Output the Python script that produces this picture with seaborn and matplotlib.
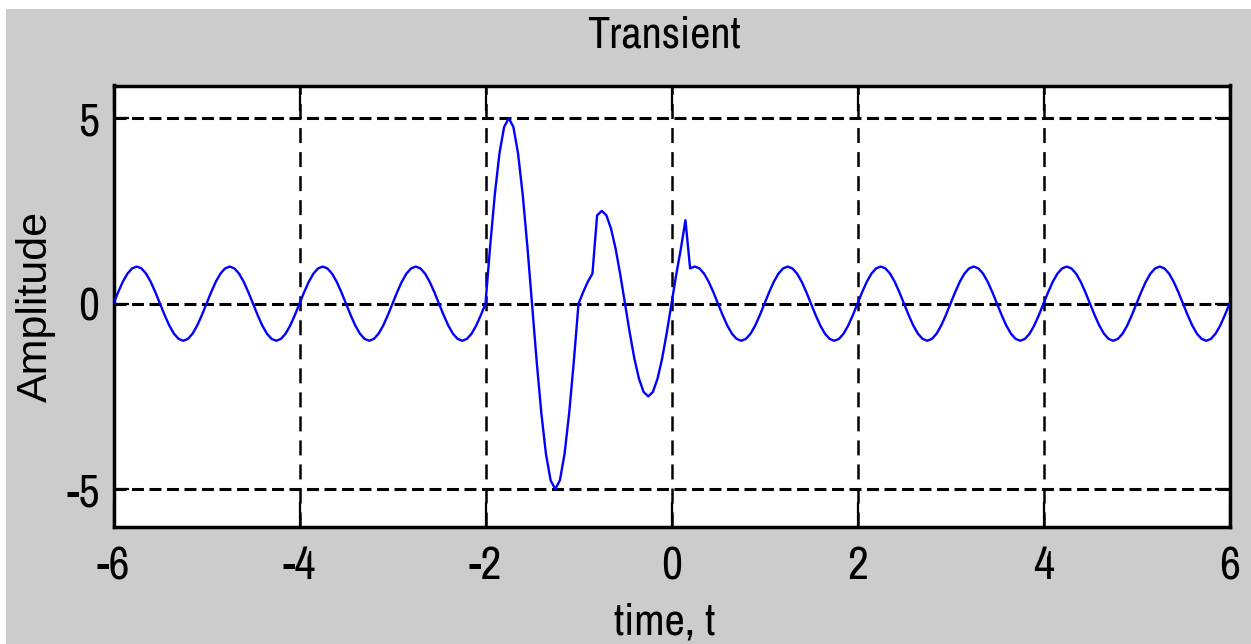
import numpy as np
import pandas as pd
import matplotlib
matplotlib.use("Agg")
import matplotlib.pyplot as plt
from matplotlib import font_manager
from matplotlib.patches import Rectangle
from matplotlib.ticker import FixedLocator, FixedFormatter
import seaborn as sns

# ---- data -------------------------------------------------------------
# sample times, 0.05 s apart, from -6 to 6
time_t = np.round(np.linspace(-6.0, 6.0, 241), 2)

# amplitude samples, one row per second of signal
amplitude = [
    # -6 .. -5.05
    0.00, 0.31, 0.59, 0.81, 0.95, 1.00, 0.95, 0.81, 0.59, 0.31,
    0.00, -0.31, -0.59, -0.81, -0.95, -1.00, -0.95, -0.81, -0.59, -0.31,
    # -5 .. -4.05
    0.00, 0.31, 0.59, 0.81, 0.95, 1.00, 0.95, 0.81, 0.59, 0.31,
    0.00, -0.31, -0.59, -0.81, -0.95, -1.00, -0.95, -0.81, -0.59, -0.31,
    # -4 .. -3.05
    0.00, 0.31, 0.59, 0.81, 0.95, 1.00, 0.95, 0.81, 0.59, 0.31,
    0.00, -0.31, -0.59, -0.81, -0.95, -1.00, -0.95, -0.81, -0.59, -0.31,
    # -3 .. -2.05
    0.00, 0.31, 0.59, 0.81, 0.95, 1.00, 0.95, 0.81, 0.59, 0.31,
    0.00, -0.31, -0.59, -0.81, -0.95, -1.00, -0.95, -0.81, -0.59, -0.31,
    # -2 .. -1.05  (large burst)
    0.00, 1.55, 2.94, 4.05, 4.76, 5.00, 4.76, 4.05, 2.94, 1.55,
    0.00, -1.55, -2.94, -4.05, -4.76, -5.00, -4.76, -4.05, -2.94, -1.55,
    # -1 .. -0.05  (second burst starts at -0.8)
    0.00, 0.31, 0.59, 0.81, 2.38, 2.50, 2.38, 2.02, 1.47, 0.77,
    0.00, -0.77, -1.47, -2.02, -2.38, -2.50, -2.38, -2.02, -1.47, -0.77,
    # 0 .. 0.95
    0.00, 0.77, 1.47, 2.25, 0.95, 1.00, 0.95, 0.81, 0.59, 0.31,
    0.00, -0.31, -0.59, -0.81, -0.95, -1.00, -0.95, -0.81, -0.59, -0.31,
    # 1 .. 1.95
    0.00, 0.31, 0.59, 0.81, 0.95, 1.00, 0.95, 0.81, 0.59, 0.31,
    0.00, -0.31, -0.59, -0.81, -0.95, -1.00, -0.95, -0.81, -0.59, -0.31,
    # 2 .. 2.95
    0.00, 0.31, 0.59, 0.81, 0.95, 1.00, 0.95, 0.81, 0.59, 0.31,
    0.00, -0.31, -0.59, -0.81, -0.95, -1.00, -0.95, -0.81, -0.59, -0.31,
    # 3 .. 3.95
    0.00, 0.31, 0.59, 0.81, 0.95, 1.00, 0.95, 0.81, 0.59, 0.31,
    0.00, -0.31, -0.59, -0.81, -0.95, -1.00, -0.95, -0.81, -0.59, -0.31,
    # 4 .. 4.95
    0.00, 0.31, 0.59, 0.81, 0.95, 1.00, 0.95, 0.81, 0.59, 0.31,
    0.00, -0.31, -0.59, -0.81, -0.95, -1.00, -0.95, -0.81, -0.59, -0.31,
    # 5 .. 5.95
    0.00, 0.31, 0.59, 0.81, 0.95, 1.00, 0.95, 0.81, 0.59, 0.31,
    0.00, -0.31, -0.59, -0.81, -0.95, -1.00, -0.95, -0.81, -0.59, -0.31,
    # 6
    0.00,
]

x_ticks = [-6, -4, -2, 0, 2, 4, 6]
x_tick_labels = ["-6", "-4", "-2", "0", "2", "4", "6"]
y_ticks = [-5, 0, 5]
y_tick_labels = ["-5", "0", "5"]

title_text = "Transient"
x_label = "time, t"
y_label = "Amplitude"

df = pd.DataFrame({"time": time_t, "amplitude": amplitude})

# ---- style ------------------------------------------------------------
sns.set_theme(style="white")

# prefer a narrow sans face for the horizontal text when one is installed
narrow = None
for f in font_manager.fontManager.ttflist:
    if "Narrow" in f.name or "Condensed" in f.name:
        narrow = f.name
        break
if narrow is not None:
    plt.rcParams["font.family"] = [narrow, "Liberation Sans", "DejaVu Sans"]
    text_size, tick_size = 32, 33
else:
    plt.rcParams["font.family"] = ["Liberation Sans", "DejaVu Sans"]
    text_size, tick_size = 29, 30
plt.rcParams["lines.scale_dashes"] = False

fig = plt.figure(figsize=(12.51, 6.44), dpi=100, facecolor="white")
# grey window background
fig.patches.append(Rectangle((6 / 1251, 0), 1 - 6 / 1251, 1 - 9 / 644,
                             transform=fig.transFigure, facecolor="#cccccc",
                             edgecolor="none", zorder=-10))

ax = fig.add_axes([113.5 / 1251, 117 / 644, 1116 / 1251, 441.5 / 644])
ax.set_facecolor("white")

sns.lineplot(data=df, x="time", y="amplitude", color="#0000ff",
             linewidth=1.7, estimator=None, ax=ax, zorder=3)

ax.set_xlim(-6, 6)
ax.set_ylim(-6.02, 5.88)

ax.xaxis.set_major_locator(FixedLocator(x_ticks))
ax.xaxis.set_major_formatter(FixedFormatter(x_tick_labels))
ax.yaxis.set_major_locator(FixedLocator(y_ticks))
ax.yaxis.set_major_formatter(FixedFormatter(y_tick_labels))

# dashed grid at the ticks
ax.grid(axis="x", color="black", linewidth=1.8, linestyle=(0, (10.8, 6.5)))
ax.grid(axis="y", color="black", linewidth=2.2, linestyle=(0, (8.6, 4.0)))
ax.set_axisbelow(False)

for side in ["left", "right", "top", "bottom"]:
    ax.spines[side].set_visible(True)
    ax.spines[side].set_color("black")
    ax.spines[side].set_linewidth(2.5)

ax.tick_params(axis="x", which="major", direction="in", top=True, bottom=True,
               length=18, width=1.6, color="black", pad=13,
               labelsize=tick_size, labelcolor="black")
ax.tick_params(axis="y", which="major", direction="in", left=True, right=True,
               length=11, width=1.6, color="black", pad=10,
               labelsize=tick_size, labelcolor="black")

ax.set_title(title_text, fontsize=text_size, color="black", pad=27, x=0.493)

ax.set_xlabel(x_label, fontsize=text_size, color="black")
ax.xaxis.label.set_verticalalignment("baseline")
ax.xaxis.set_label_coords(0.494, -0.2446)

ax.set_ylabel(y_label, fontsize=31, color="black",
              family=["Liberation Sans", "DejaVu Sans"])
ax.yaxis.label.set_verticalalignment("baseline")
ax.yaxis.set_label_coords(-0.0596, 0.5)

fig.savefig("out.png", dpi=100, facecolor=fig.get_facecolor())
